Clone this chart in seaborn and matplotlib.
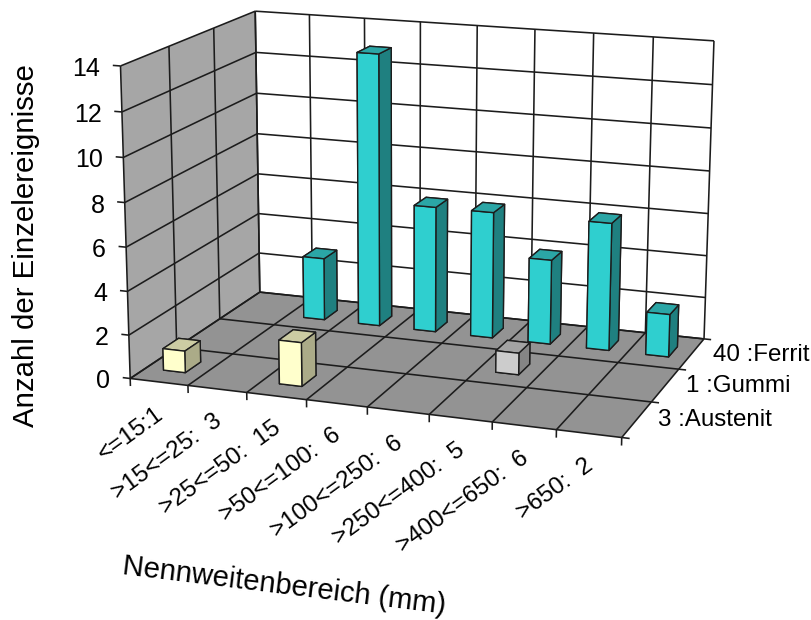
import numpy as np
import pandas as pd
import seaborn as sns
import matplotlib
matplotlib.use('Agg')
import matplotlib.pyplot as plt
from mpl_toolkits.mplot3d import proj3d
from mpl_toolkits.mplot3d.art3d import Poly3DCollection, Line3DCollection

# data
cat_labels = ['<=15:1', '>15<=25:  3', '>25<=50:  15', '>50<=100:  6',
              '>100<=250:  6', '>250<=400:  5', '>400<=650:  6', '>650:  2']
series_names = ['Austenit', 'Gummi', 'Ferrit']
series_labels = ['3 :Austenit', '1 :Gummi', '40 :Ferrit']
austenit = [1, 0, 2, 0, 0, 0, 0, 0]
gummi = [0, 0, 0, 0, 0, 1, 0, 0]
ferrit = [0, 3, 13, 6, 6, 4, 6, 2]
z_ticks = [0, 2, 4, 6, 8, 10, 12, 14]

# bottom, top, front, back, left, right face colours (same order as bar3d)
face_cols = {'Austenit': ['#FFFFCC', '#CCCCA3', '#FFFFCC', '#FFFFCC', '#ABAB88', '#ABAB88'],
             'Gummi': ['#CCCCCC', '#A3A3A3', '#CCCCCC', '#CCCCCC', '#858585', '#858585'],
             'Ferrit': ['#2FCFCF', '#2BA6A6', '#2FCFCF', '#2FCFCF', '#1F8080', '#1F8080']}

W, H = 811, 620
n_cat, n_ser, z_max = len(cat_labels), len(series_names), z_ticks[-1]

# box corners as they sit in the picture, the camera is fitted to these
world_pts = [(0, 0, 0), (0, 0, 14), (0, 3, 14), (0, 3, 0), (8, 3, 14), (8, 3, 0), (8, 0, 0)]
pixel_pts = [(130, 378), (120.7, 66), (255, 11), (260, 292.7), (714, 41), (704, 338.3), (621.7, 438)]


def fit_camera(world, pixel):
    rows = []
    for (x, y, z), (u, v) in zip(world, pixel):
        rows.append([x, y, z, 1, 0, 0, 0, 0, -u * x, -u * y, -u * z, -u])
        rows.append([0, 0, 0, 0, x, y, z, 1, -v * x, -v * y, -v * z, -v])
    p = np.linalg.svd(np.array(rows, dtype=float))[2][-1].reshape(3, 4)
    p = p / p[2, 3]
    # third row only orders the faces, further away = larger
    return np.array([p[0], p[1], [0, 0, 0, -1], p[2]])


sns.set_theme(style='white')
plt.rcParams['font.family'] = ['Liberation Sans', 'DejaVu Sans']
plt.rcParams['text.color'] = 'black'

df = pd.DataFrame({'Austenit': austenit, 'Gummi': gummi, 'Ferrit': ferrit})
df['cat'] = range(n_cat)
long_df = df.melt(id_vars='cat', var_name='series', value_name='count')
long_df = long_df[long_df['count'] > 0]

fig = plt.figure(figsize=(W / 100, H / 100), dpi=100)
ax = fig.add_axes([0, 0, 1, 1], projection='3d', computed_zorder=False)
ax.apply_aspect = lambda position=None: None
ax.set_axis_off()
M = fit_camera(world_pts, pixel_pts)
ax.get_proj = lambda: M
ax.M = M

LINE = '#1c1c1c'


def wall(verts, color):
    ax.add_collection3d(Poly3DCollection([verts], facecolors=color, edgecolors='none', zorder=1), autolim=False)


def label(x, y, z, s, dx=0, dy=0, **kw):
    px, py, _ = proj3d.proj_transform(x, y, z, M)
    ax.text2D(px + dx, py + dy, s, transform=ax.transData, color='black', **kw)


wall([(0, 0, 0), (0, 3, 0), (0, 3, 14), (0, 0, 14)], '#A6A6A6')
wall([(0, 0, 0), (8, 0, 0), (8, 3, 0), (0, 3, 0)], '#939393')

# grid and ticks
segs = []
for v in z_ticks:
    segs.append([(0, 0, v), (0, 3, v)])
    segs.append([(0, 3, v), (8, 3, v)])
    segs.append([(0, 0, v), (-0.13, 0, v)])
for s in range(n_ser + 1):
    segs.append([(0, s, 0), (8, s, 0)])
    segs.append([(0, s, 0), (0, s, z_max)])
    segs.append([(8, s, 0), (8.12, s, 0)])
for c in range(n_cat + 1):
    segs.append([(c, 0, 0), (c, 3, 0)])
    segs.append([(c, 3, 0), (c, 3, z_max)])
    segs.append([(c, 0, 0), (c, 0, -0.35)])
ax.add_collection3d(Line3DCollection(segs, colors=LINE, linewidths=1.15, zorder=2), autolim=False)

for v in z_ticks:
    label(0, 0, v, str(v), dx=-20, dy=3, ha='right', va='center', fontsize=18)

# bars, back row first
bar_w, bar_d = 0.38, 0.34
order = long_df.assign(row=long_df['series'].map(series_names.index)).sort_values(['row', 'cat'], ascending=[False, True])
for k, (_, r) in enumerate(order.iterrows()):
    x0 = r['cat'] + (1 - bar_w) / 2
    y0 = r['row'] + (1 - bar_d) / 2
    ax.bar3d(x0, y0, 0, bar_w, bar_d, r['count'], color=face_cols[r['series']], shade=False,
             edgecolor=LINE, linewidth=1.0, zorder=10 + k)

# category labels
for i, lab in enumerate(cat_labels):
    label(i + 0.5, 0, 0, lab, dx=2, dy=30, ha='right', va='center', rotation=36,
          rotation_mode='anchor', fontsize=17.4)
# series labels
for s, lab in enumerate(series_labels):
    label(8, s + 0.5, 0, lab, dx=21, dy=1, ha='left', va='center', fontsize=17.4)

fig.text(26 / W, 1 - 246 / H, 'Anzahl der Einzelereignisse', rotation=90, ha='center', va='center', fontsize=21.2)
fig.text(284.5 / W, 1 - 586 / H, 'Nennweitenbereich (mm)', rotation=-7, ha='center', va='center',
         rotation_mode='anchor', fontsize=21)

ax.viewLim.intervalx = (0, W)
ax.viewLim.intervaly = (H, 0)
fig.savefig('out.png', dpi=100)
